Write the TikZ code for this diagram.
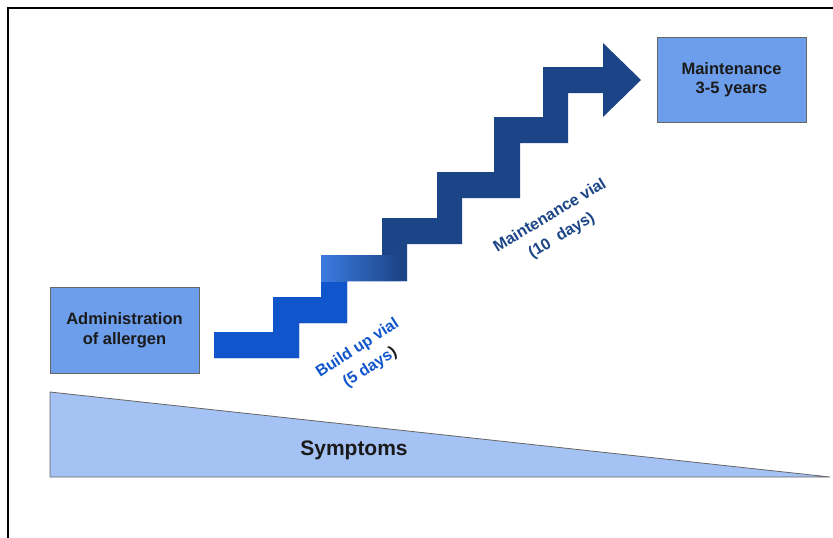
\documentclass[tikz,border=0pt]{standalone}
\usepackage{fontspec}
\setmainfont{Liberation Sans}
\begin{document}
\begin{tikzpicture}[x=1pt,y=-1pt,
  boxstyle/.style={draw=boxline,line width=0.8pt,fill=boxfill,inner sep=0pt,align=center,
    text=textdark,font=\bfseries\fontsize{16.5}{19.5}\selectfont},
  vialtext/.style={inner sep=0pt,align=center,font=\bfseries\fontsize{16}{23}\selectfont}]
\definecolor{boxfill}{HTML}{6D9EEB}
\definecolor{trifill}{HTML}{A4C2F4}
\definecolor{boxline}{HTML}{666666}
\definecolor{textdark}{HTML}{1A1A1A}
\definecolor{darkblue}{HTML}{1C4587}
\definecolor{brightblue}{HTML}{1155CC}
\definecolor{lightbright}{HTML}{3C7BE0}
\useasboundingbox (0,0) rectangle (833,538);
\fill[white] (0,0) rectangle (833,538);
% frame
\draw[line width=2pt] (8,538) -- (8,8) -- (833,8);
% boxes
\node[boxstyle,minimum width=149pt,minimum height=86pt] (admin) at (124.5,330.5) {Administration\\of allergen};
\node[boxstyle,minimum width=149pt,minimum height=85pt] (maint) at (731.5,79.5) {Maintenance\\3-5 years};
% symptoms triangle
\draw[draw=boxline,line width=0.8pt,fill=trifill] (50,392) -- (50,477) -- (830,477) -- cycle;
\node[inner sep=0pt,text=textdark,font=\bfseries\fontsize{21}{24}\selectfont] (symp) at (354,450) {Symptoms};
% staircase
\def\stairpath{(214,332) -- (273,332) -- (273,297) -- (321,297) -- (321,255) -- (382,255) -- (382,218) -- (437,218) -- (437,172) -- (494,172) -- (494,117) -- (543,117) -- (543,67) -- (603,67) -- (603,43) -- (641,80) -- (603,117) -- (603,93) -- (568,93) -- (568,143) -- (520,143) -- (520,198) -- (462,198) -- (462,244) -- (407,244) -- (407,281) -- (347,281) -- (347,323) -- (299,323) -- (299,358) -- (214,358) -- cycle}
\fill[darkblue] \stairpath;
\begin{scope}
  \clip \stairpath;
  \fill[brightblue] (200,281) rectangle (420,370);
  \shade[left color=lightbright,right color=darkblue,shading angle=90] (321,255) rectangle (400,281.5);
\end{scope}
% vial labels
\node[vialtext,text=brightblue,rotate=33] (build) at (364,358) {Build up vial\\(5 days\textcolor{textdark}{)}};
\node[vialtext,text=darkblue,rotate=31] (mvial) at (556,226) {Maintenance vial\\(10\ \ days)};
\end{tikzpicture}
\end{document}
